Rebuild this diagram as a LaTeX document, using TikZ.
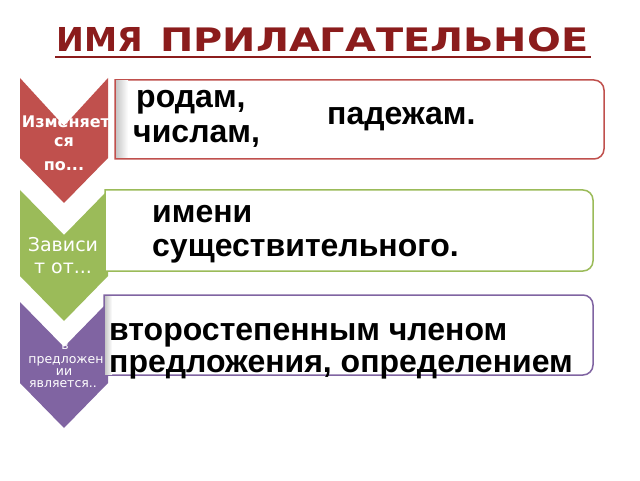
\documentclass[tikz,border=0pt]{standalone}
\usepackage{fontspec}
\setmainfont{Liberation Sans}
\newfontfamily\chevfont{DejaVu Sans}
\definecolor{cred}{HTML}{C0504D}
\definecolor{cgreen}{HTML}{9BBB59}
\definecolor{cpurple}{HTML}{8064A2}
\definecolor{ctitle}{RGB}{139,28,28}
\tikzset{
  boxtext/.style={anchor=base west,inner sep=0pt,text=black,font=\fontsize{32}{37}\selectfont\bfseries},
  redtext/.style={anchor=base,inner sep=0pt,text=white,font=\chevfont\bfseries\fontsize{16}{19}\selectfont},
  greentext/.style={anchor=base,inner sep=0pt,text=white,font=\chevfont\fontsize{19}{22}\selectfont},
  purpletext/.style={anchor=base,inner sep=0pt,text=white,font=\chevfont\fontsize{12.5}{14}\selectfont},
  titletext/.style={anchor=base west,inner sep=0pt,text=ctitle},
  listbox/.style={line width=1.5pt,fill=white},
  sidefade/.style={left color=black!22,right color=white},
}
\begin{document}
\begin{tikzpicture}[x=1pt,y=1pt]
\useasboundingbox (0,0) rectangle (640,480);
\fill[white] (0,0) rectangle (640,480);

% title
\node[titletext] (title1) at (56.5,428.3) {\resizebox{86.5pt}{24pt}{\chevfont\bfseries ИМЯ}};
\node[titletext] (title2) at (160,428.3) {\resizebox{428pt}{24pt}{\chevfont\bfseries ПРИЛАГАТЕЛЬНОЕ}};
\draw[ctitle,line width=2pt] ([xshift=-1.5pt,yshift=-5.8pt]title1.base west) -- ([xshift=2.5pt,yshift=-5.8pt]title2.base east);

% chevrons
\fill[cred] (20,402) -- (64,354) -- (108,402) -- (108,322) -- (64,277) -- (20,322) -- cycle;
\fill[cgreen] (20,290) -- (64,245) -- (108,290) -- (108,204) -- (64,159) -- (20,204) -- cycle;
\fill[cpurple] (20,178) -- (64,133) -- (108,178) -- (108,97) -- (64,52) -- (20,97) -- cycle;

% chevron texts
\node[redtext] (r1) at (66,352) {Изменяет};
\node[redtext] (r2) at (64,333) {ся};
\node[redtext] (r3) at (64,309) {по...};
\node[greentext] (g1) at (63,229) {Зависи};
\node[greentext] (g2) at (63,207) {т от...};
\node[purpletext] (p1) at (65,131) {в};
\node[purpletext] (p2) at (66,117) {предложен};
\node[purpletext] (p3) at (64,105) {ии};
\node[purpletext] (p4) at (63,93) {является..};

% boxes
\draw[listbox,draw=cred] (115,400) -- (594,400) arc[start angle=90,end angle=0,radius=10] -- (604,331) arc[start angle=0,end angle=-90,radius=10] -- (115,321) -- cycle;
\shade[sidefade] (116,322) rectangle (128,399);
\draw[listbox,draw=cgreen] (105,290) -- (583,290) arc[start angle=90,end angle=0,radius=10] -- (593,219) arc[start angle=0,end angle=-90,radius=10] -- (105,209) -- cycle;
\draw[listbox,draw=cpurple] (104,185) -- (583,185) arc[start angle=90,end angle=0,radius=10] -- (593,115) arc[start angle=0,end angle=-90,radius=10] -- (104,105) -- cycle;
\shade[sidefade] (105,106) rectangle (112,184);

% box texts
\node[boxtext] (t1) at (136,372) {родам,};
\node[boxtext] (t2) at (133,337) {числам,};
\node[boxtext] (t3) at (327,355) {падежам.};
\node[boxtext] (t4) at (152,258) {имени};
\node[boxtext] (t5) at (152,223) {существительного.};
\node[boxtext] (t6) at (109,140) {второстепенным членом};
\node[boxtext] (t7) at (109,108) {предложения, определением};
\end{tikzpicture}
\end{document}
